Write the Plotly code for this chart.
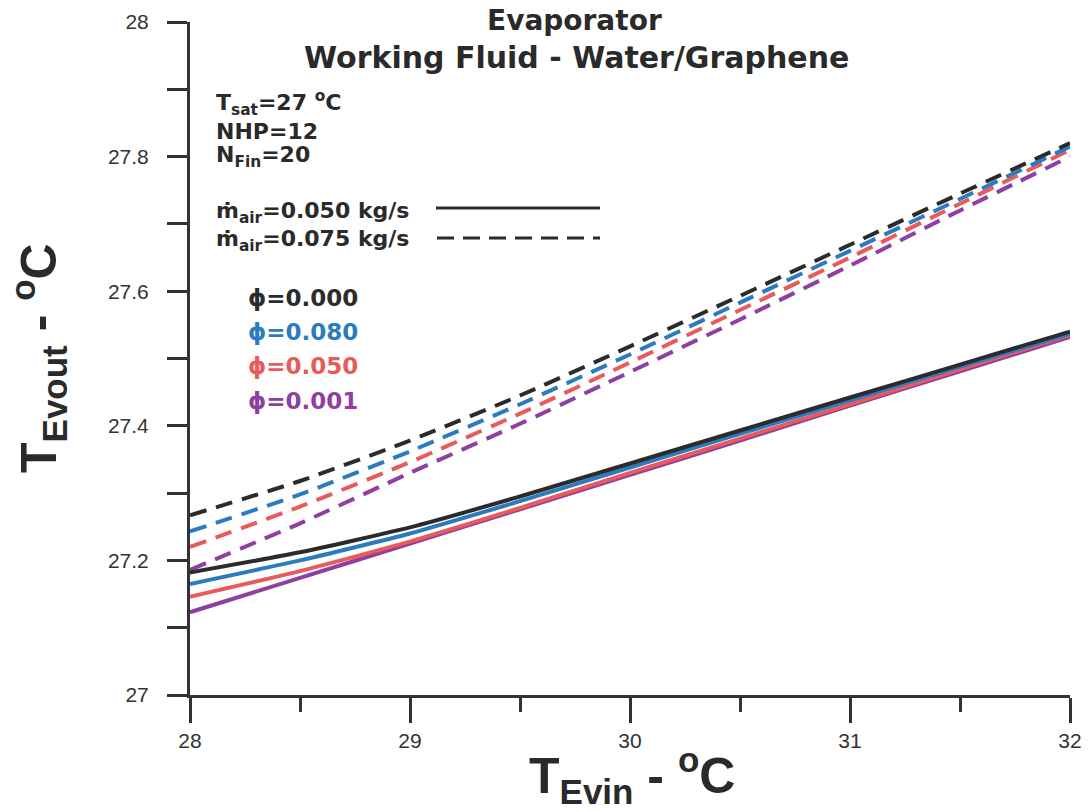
import plotly.graph_objects as go

# ---- data ----
t_evin = [28, 28.5, 29, 29.5, 30, 30.5, 31, 31.5, 32]

phi_labels = ["ϕ=0.000", "ϕ=0.080", "ϕ=0.050", "ϕ=0.001"]
phi_colors = ["#2b2b2b", "#2b7bc0", "#e85a5c", "#8e3f9f"]

# m_air = 0.050 kg/s (solid)
solid_000 = [27.182, 27.212, 27.249, 27.295, 27.344, 27.393, 27.442, 27.491, 27.540]
solid_080 = [27.165, 27.200, 27.240, 27.288, 27.338, 27.388, 27.438, 27.488, 27.537]
solid_050 = [27.146, 27.184, 27.228, 27.278, 27.330, 27.381, 27.432, 27.484, 27.535]
solid_001 = [27.123, 27.174, 27.225, 27.276, 27.327, 27.378, 27.430, 27.481, 27.532]

# m_air = 0.075 kg/s (dashed)
dash_000 = [27.267, 27.318, 27.378, 27.445, 27.518, 27.593, 27.669, 27.745, 27.820]
dash_080 = [27.243, 27.298, 27.362, 27.432, 27.506, 27.583, 27.660, 27.737, 27.815]
dash_050 = [27.220, 27.280, 27.346, 27.418, 27.494, 27.572, 27.650, 27.730, 27.810]
dash_001 = [27.186, 27.255, 27.330, 27.403, 27.480, 27.558, 27.638, 27.720, 27.800]

y_ticks = [27, 27.2, 27.4, 27.6, 27.8, 28]
y_ticktext = ["27", "27.2", "27.4", "27.6", "27.8", "28"]
x_ticks = [28, 29, 30, 31, 32]
x_ticktext = ["28", "29", "30", "31", "32"]

FONT = "Liberation Sans, Arial, sans-serif"
HEAVY = "DejaVu Sans, Liberation Sans, Arial, sans-serif"
NARROW = "Liberation Sans Narrow, Liberation Sans, Arial, sans-serif"

fig = go.Figure()

dashed = [dash_000, dash_080, dash_050, dash_001]
solid = [solid_000, solid_080, solid_050, solid_001]

for ys, c in reversed(list(zip(dashed, phi_colors))):
    fig.add_trace(go.Scatter(x=t_evin, y=ys, mode="lines",
                             line=dict(color=c, width=4, dash="17px,10px", shape="spline", smoothing=0.5),
                             showlegend=False, hoverinfo="skip"))
for ys, c in reversed(list(zip(solid, phi_colors))):
    fig.add_trace(go.Scatter(x=t_evin, y=ys, mode="lines",
                             line=dict(color=c, width=4, shape="spline", smoothing=0.5),
                             showlegend=False, hoverinfo="skip"))

axis_col = "#333333"
fig.update_layout(
    width=1090, height=812,
    margin=dict(l=190, r=20, t=22, b=117),
    paper_bgcolor="white", plot_bgcolor="white",
    font=dict(family=FONT, color="#2a2a2a"),
    xaxis=dict(range=[28, 32], tickvals=x_ticks, ticktext=x_ticktext, automargin=False,
               showgrid=False, zeroline=False, showline=True, linewidth=3, linecolor=axis_col,
               ticks="outside", ticklen=25, tickwidth=2.5, tickcolor=axis_col,
               tickfont=dict(size=21, family=FONT, color="#333"),
               ticklabelstandoff=0,
               minor=dict(dtick=0.5, ticks="outside", ticklen=14, tickwidth=2.5, tickcolor=axis_col)),
    yaxis=dict(range=[27, 28], tickvals=y_ticks, ticktext=y_ticktext, automargin=False,
               showgrid=False, zeroline=False, showline=True, linewidth=3, linecolor=axis_col,
               ticks="outside", ticklen=20, tickwidth=2.5, tickcolor=axis_col,
               tickfont=dict(size=21, family=FONT, color="#333"),
               ticklabelstandoff=14,
               minor=dict(dtick=0.1, ticks="outside", ticklen=20, tickwidth=2.5, tickcolor=axis_col)),
)

def px2paper(px, py):
    return (px - 190) / 880.0, (695 - py) / 673.0

def add_text(txt, px, py, size, color="#2a2a2a", xanchor="left", bold=True, angle=0, family=HEAVY):
    xp, yp = px2paper(px, py)
    fig.add_annotation(x=xp, y=yp, xref="paper", yref="paper", text=(f"<b>{txt}</b>" if bold else txt),
                       showarrow=False, xanchor=xanchor, yanchor="middle", textangle=angle,
                       font=dict(size=size, color=color, family=family))

# titles
add_text("Evaporator", 574, 20, 28, xanchor="center")
add_text("Working Fluid - Water/Graphene", 576, 57, 30, xanchor="center")

# parameter texts
add_text("T<sub>sat</sub>=27 <sup>o</sup>C", 214, 103, 22)
add_text("NHP=12", 214, 131, 22)
add_text("N<sub>Fin</sub>=20", 214, 157, 22)
add_text("ṁ<sub>air</sub>=0.050 kg/s", 214, 212, 22)
add_text("ṁ<sub>air</sub>=0.075 kg/s", 214, 241, 22)

# legend sample lines
x0, y0 = px2paper(436, 208)
x1, _ = px2paper(600, 208)
fig.add_shape(type="line", xref="paper", yref="paper", x0=x0, x1=x1, y0=y0, y1=y0,
              line=dict(color="#2b2b2b", width=3))
x0, y0 = px2paper(437, 238)
fig.add_shape(type="line", xref="paper", yref="paper", x0=x0, x1=x1, y0=y0, y1=y0,
              line=dict(color="#2b2b2b", width=3, dash="17px,9px"))

# phi labels
for lbl, c, py in zip(phi_labels, phi_colors, [298, 332, 366, 401]):
    add_text(lbl, 246, py, 23, color=c)

# axis titles
add_text("T<sub>Evin</sub> - <sup>o</sup>C", 632, 775, 50, xanchor="center", family=NARROW)
add_text("T<sub>Evout</sub> - <sup>o</sup>C", 38, 358, 50, xanchor="center", angle=-90, family=NARROW)

fig.write_html("out.html")
